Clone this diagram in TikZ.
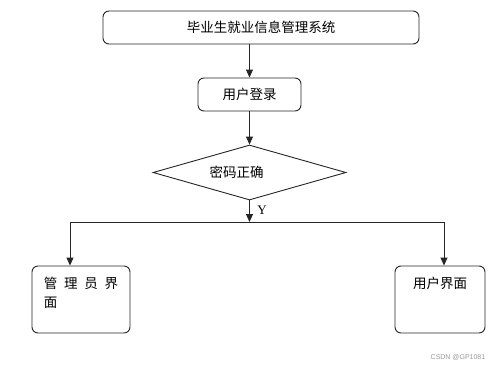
\documentclass[tikz,border=0pt]{standalone}
\usepackage{fontspec}
\setmainfont{Liberation Serif}
\newfontfamily\cjk{Noto Sans CJK SC}
\newfontfamily\wm{Liberation Sans}
\usetikzlibrary{arrows.meta,shapes.geometric}
\begin{document}
\begin{tikzpicture}[x=1pt,y=-1pt,
  line/.style={draw=black!85, line width=0.9pt},
  arr/.style={line, -{Triangle[length=8pt,width=7pt]}},
  rbox/.style={line, rounded corners=6pt, inner sep=0pt, font=\cjk\fontsize{13.5}{16}\selectfont},
  dia/.style={line, diamond, inner sep=0pt, minimum width=193pt, minimum height=55pt, font=\cjk\fontsize{13.5}{16}\selectfont}
]
\useasboundingbox[fill=white] (0,0) rectangle (500,367);
\node[rbox, minimum width=316pt, minimum height=33pt] (top) at (261,27.5) {毕业生就业信息管理系统};
\node[rbox, minimum width=103pt, minimum height=33pt] (login) at (249.5,94.5) {用户登录};
\node[dia, label={[font=\cjk\fontsize{13.5}{16}\selectfont, xshift=-13pt]center:密码正确}] (pw) at (249.5,172.5) {};
\node[rbox, minimum width=98pt, minimum height=67pt,
  label={[font=\cjk\fontsize{13.5}{19}\selectfont, align=left, anchor=north west, xshift=12pt, yshift=-11pt, inner sep=0pt]north west:管\,\,\,理\,\,\,员\,\,\,界\\面}] (admin) at (81,299.5) {};
\node[rbox, minimum width=90pt, minimum height=67pt,
  label={[font=\cjk\fontsize{13.5}{16}\selectfont, anchor=north, yshift=-11pt, inner sep=0pt]north:用户界面}] (user) at (440,299.5) {};
\coordinate (j) at (249.5,222);
\coordinate (jl) at (70,222);
\coordinate (jr) at (444,222);
\draw[arr] (top.south -| login.north) -- (login.north);
\draw[arr] (login) -- (pw.north);
\draw[arr] (pw.south) -- (j) node[pos=0.45, right=4pt, font=\fontsize{13}{15}\selectfont] (ylab) {Y};
\draw[line] (jl) -- (jr);
\draw[arr] (jl) -- (jl |- admin.north);
\draw[arr] (jr) -- (jr |- user.north);
\node[font=\wm\fontsize{7}{8}\selectfont, text=black!40] (wmk) at (458,357) {CSDN @GP1081};
\end{tikzpicture}
\end{document}
